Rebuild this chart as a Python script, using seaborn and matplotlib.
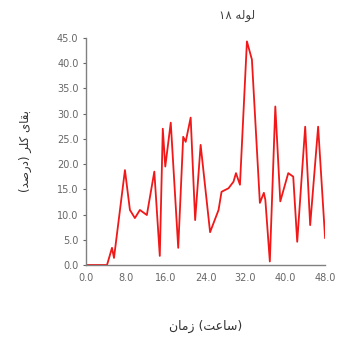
import seaborn as sns
import pandas as pd
import matplotlib.pyplot as plt

# hours and chlorine values
hours = [0, 4.2, 5.2, 5.6, 7.8, 8.8, 9.8, 10.8, 12.2, 13.7, 14.8, 15.4, 15.9, 17.0,
         18.5, 19.5, 20.0, 21.0, 21.9, 23.0, 24.9, 26.6, 27.2, 28.6, 29.6, 30.1,
         30.9, 32.3, 33.3, 34.9, 35.7, 36.0, 36.9, 38.0, 39.0, 40.6, 41.6, 42.4,
         44.0, 45.0, 46.6, 48.0]
values = [0, 0, 3.4, 1.4, 18.8, 10.9, 9.3, 10.9, 9.9, 18.5, 1.8, 27.0, 19.5, 28.2,
          3.4, 25.4, 24.4, 29.2, 8.9, 23.8, 6.5, 10.9, 14.5, 15.2, 16.5, 18.2,
          15.9, 44.3, 40.7, 12.3, 14.3, 12.9, 0.7, 31.4, 12.6, 18.2, 17.5, 4.6,
          27.4, 7.9, 27.4, 5.3]
x_ticks = [0, 8, 16, 24, 32, 40, 48]
y_ticks = [0, 5, 10, 15, 20, 25, 30, 35, 40, 45]

# Persian labels, written as shaped glyphs in visual order
title = "\u06F1\u06F8 \uFEEA\uFEDF\uFEEE\uFEDF"            # لوله ۱۸
xlabel = "\uFEE5\uFE8E\uFEE3\uFEAF (\uFE96\uFECB\uFE8E\uFEB3)"  # زمان (ساعت)
ylabel = "(\uFEAA\uFEBB\uFEAD\uFEA9) \uFEAE\uFEE0\uFB90 \uFBFC\uFE8E\uFED8\uFE91"  # بقای کلر (درصد)

df = pd.DataFrame({"hour": hours, "value": values})

sns.set_style("ticks")
plt.rcParams['font.family'] = ['DejaVu Sans']

fig = plt.figure(figsize=(3.39, 3.38), dpi=100)
ax = fig.add_axes([0.254, 0.216, 0.705, 0.672])

sns.lineplot(data=df, x="hour", y="value", color="#f01818", linewidth=1.3, ax=ax)

ax.set_xlim(0, 48)
ax.set_ylim(0, 45)
ax.set_xticks(x_ticks)
ax.set_yticks(y_ticks)
ax.set_xticklabels([f"{t:.1f}" for t in x_ticks])
ax.set_yticklabels([f"{t:.1f}" for t in y_ticks])
ax.tick_params(axis="both", labelsize=7, colors="#666666", length=2, width=0.8)
ax.tick_params(axis="x", length=0, pad=6)

sns.despine(ax=ax)
for s in ["left", "bottom"]:
    ax.spines[s].set_color("#808080")
    ax.spines[s].set_linewidth(1.0)

ax.set_title(title, fontsize=8.5, color="#444444", x=0.63, pad=14)
ax.set_xlabel(xlabel, fontsize=9, color="#333333", labelpad=26)
ax.set_ylabel(ylabel, fontsize=8.5, color="#333333", labelpad=18)

fig.savefig("out.png", dpi=100)
